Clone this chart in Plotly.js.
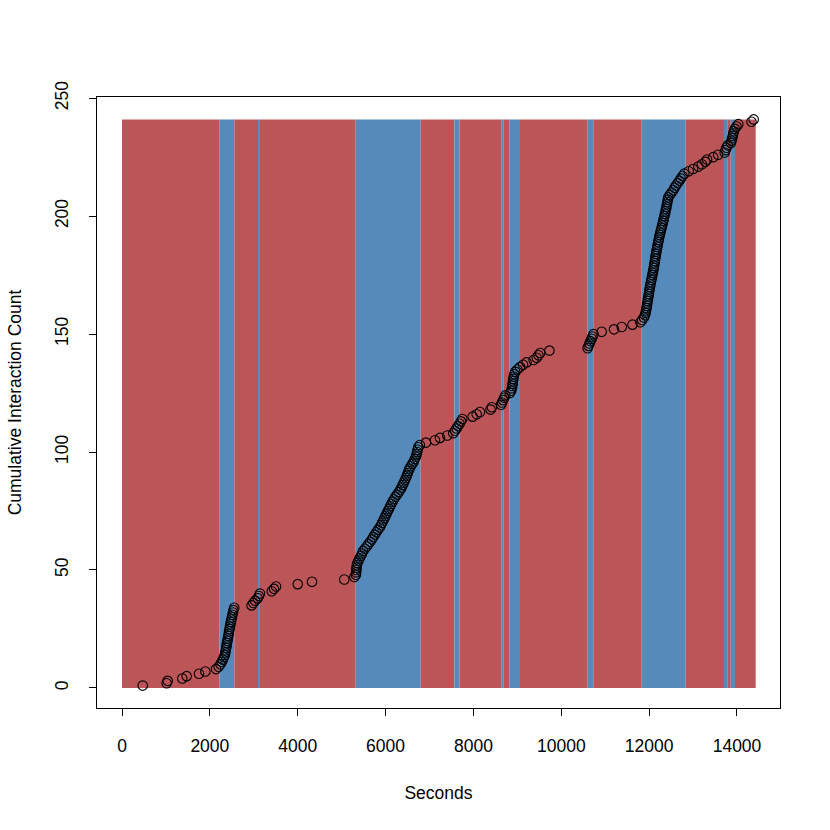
<!DOCTYPE html>
<html>
<head>
<meta charset="utf-8">
<script src="https://cdn.plot.ly/plotly-3.0.1.min.js"></script>
<style>
  html, body { margin: 0; padding: 0; background: #fff; }
  #chart { width: 830px; height: 830px; }
</style>
</head>
<body>
<div id="chart"></div>
<script>
// Time (seconds) of each interaction, in order; the cumulative count is its rank
const interactionTimes = [
    471, 1017, 1040, 1373, 1472, 1753, 1897, 2140,
    2200, 2240, 2270, 2295, 2320, 2340, 2352, 2362, 2372, 2380,
    2388, 2400, 2410, 2420, 2430, 2438, 2448, 2458, 2468, 2478,
    2490, 2502, 2514, 2526, 2538, 2555,
    2950, 2990, 3030, 3090, 3115, 3140, 3408, 3460, 3506, 4000,
    4325, 5060, 5290,
    5325, 5330, 5335, 5340, 5345, 5360, 5385, 5410, 5440, 5465,
    5490, 5530, 5570, 5610, 5650, 5690, 5720, 5755, 5790, 5825,
    5865, 5895, 5920, 5950, 5975, 6000, 6025, 6052, 6080, 6105,
    6130, 6160, 6190, 6225, 6260, 6300, 6335, 6362, 6390, 6415,
    6440, 6462, 6485, 6505, 6525, 6545, 6575, 6610, 6640, 6665,
    6690, 6705, 6718, 6730, 6745, 6780,
    6920, 7125, 7239, 7405, 7540, 7580, 7615, 7650, 7685, 7715, 7747,
    7983, 8074, 8150, 8390, 8420, 8630, 8650, 8675, 8700, 8725,
    8830, 8860, 8875, 8885, 8893, 8900, 8908, 8918, 8930, 8950,
    9000, 9060, 9130, 9210, 9370, 9440, 9480, 9520, 9730,
    10600, 10620, 10640, 10665, 10690, 10710, 10735, 10920, 11200, 11376,
    11620, 11800,
    11840, 11880, 11905, 11920, 11930, 11940, 11950, 11958, 11966, 11975,
    11985, 11993, 12002, 12010, 12019, 12030, 12040, 12052, 12062, 12073,
    12084, 12095, 12104, 12113, 12122, 12131, 12140, 12148, 12157, 12166,
    12175, 12186, 12197, 12208, 12218, 12230, 12242, 12255, 12268, 12282,
    12296, 12310, 12322, 12335, 12348, 12360, 12372, 12383, 12395, 12405,
    12416, 12426, 12436, 12470, 12510, 12550, 12580, 12610, 12650, 12690,
    12720, 12760, 12800,
    12900, 13000, 13120, 13200, 13280, 13320, 13460, 13570, 13720, 13740,
    13760, 13790, 13860, 13875, 13890, 13905, 13915, 13930, 13950, 13990,
    14030, 14330, 14380
];

// State periods behind the points: edges in seconds, one state per period
const periodEdges = [
    0, 2215, 2556, 3096, 3141, 5320, 6800, 7565, 7683, 8632, 8680,
    8817, 9060, 10601, 10729, 11830, 12832, 13704, 13779, 13857, 13955, 14426
];
const periodStates = [
    'A', 'B', 'A', 'B', 'A', 'B', 'A', 'B', 'A', 'B', 'A',
    'B', 'A', 'B', 'A', 'B', 'A', 'B', 'A', 'B', 'A'
];

const xTicks = [0, 2000, 4000, 6000, 8000, 10000, 12000, 14000];
const yTicks = [0, 50, 100, 150, 200, 250];

const stateColors = { A: '#BC5557', B: '#568ABB' };
const counts = interactionTimes.map((t, i) => i + 1);
const bandTop = counts.length;

// One filled rectangle per period, in data coordinates
const shapes = periodStates.map((state, i) => ({
    type: 'rect',
    xref: 'x',
    yref: 'y',
    x0: periodEdges[i],
    x1: periodEdges[i + 1],
    y0: 0,
    y1: bandTop,
    fillcolor: stateColors[state],
    line: { width: 0 },
    layer: 'below'
}));

const traces = [{
    x: interactionTimes,
    y: counts,
    type: 'scatter',
    mode: 'markers',
    marker: {
        symbol: 'circle-open',
        size: 9.5,
        color: '#000000',
        line: { width: 1.1, color: '#000000' }
    },
    hoverinfo: 'x+y',
    showlegend: false
}];

const axisFont = { family: 'Liberation Sans, Arial, sans-serif', size: 17.5, color: '#000000' };

const layout = {
    width: 830,
    height: 830,
    margin: { l: 97, r: 50, t: 97, b: 122 },
    paper_bgcolor: '#FFFFFF',
    plot_bgcolor: '#FFFFFF',
    font: axisFont,
    showlegend: false,
    shapes: shapes,
    xaxis: {
        range: [-569, 14979],
        tickmode: 'array',
        tickvals: xTicks,
        ticktext: xTicks.map(String),
        ticks: 'outside',
        ticklen: 7,
        tickwidth: 1,
        tickcolor: '#000000',
        ticklabelstandoff: 15,
        showgrid: false,
        zeroline: false,
        showline: true,
        mirror: true,
        linecolor: '#000000',
        linewidth: 1,
        tickfont: axisFont,
        title: { text: 'Seconds', font: axisFont, standoff: 31 }
    },
    yaxis: {
        range: [-8.5, 250.5],
        tickmode: 'array',
        tickvals: yTicks,
        ticktext: yTicks.map(String),
        ticks: 'outside',
        ticklen: 7,
        tickwidth: 1,
        tickcolor: '#000000',
        tickangle: -90,
        ticklabelstandoff: 14,
        showgrid: false,
        zeroline: false,
        showline: true,
        mirror: true,
        linecolor: '#000000',
        linewidth: 1,
        tickfont: axisFont,
        title: { text: 'Cumulative Interaction Count', font: axisFont, standoff: 25 }
    }
};

Plotly.newPlot('chart', traces, layout, { displayModeBar: false, responsive: false });
</script>
</body>
</html>
